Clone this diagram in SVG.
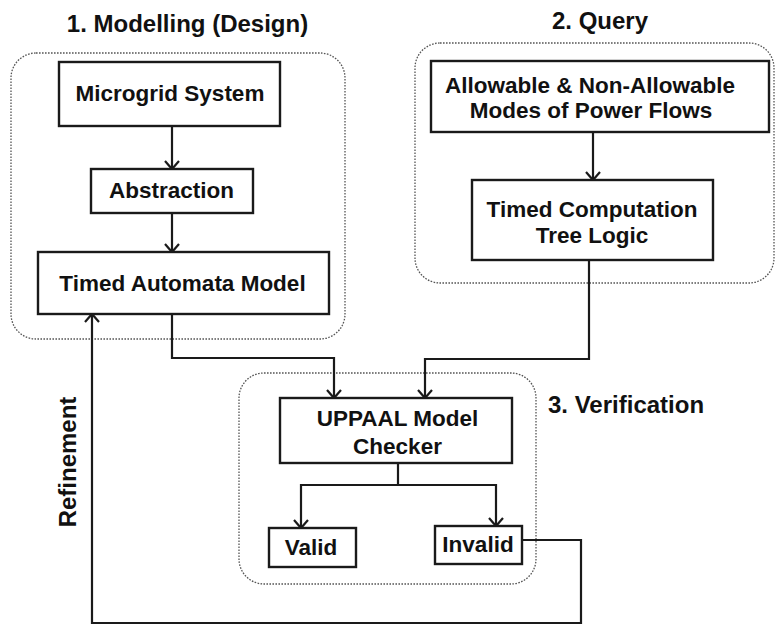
<svg xmlns="http://www.w3.org/2000/svg" width="776" height="626" viewBox="0 0 776 626">
<style>
.bg{fill:#fff}
.grp{fill:none;stroke:#555;stroke-width:1.3;stroke-dasharray:1.6,1.4}
.box{fill:#fff;stroke:#1a1a1a;stroke-width:2.4}
.t{font-family:"Liberation Sans",Arial,sans-serif;font-weight:bold;font-size:22.5px;fill:#111;text-anchor:middle}
.h{font-family:"Liberation Sans",Arial,sans-serif;font-weight:bold;font-size:24px;fill:#111}
.c{fill:none;stroke:#1a1a1a;stroke-width:2.2}
</style>
<defs>
<marker id="ah" markerUnits="userSpaceOnUse" markerWidth="20" markerHeight="20" refX="0" refY="0" viewBox="-10 -10 20 20" orient="auto" overflow="visible">
<path d="M-8,-7 L0,0 L-8,7" fill="none" stroke="#1a1a1a" stroke-width="2.2"/>
</marker>
</defs>
<rect class="bg" x="0" y="0" width="776" height="626"/>
<g id="groups">
<rect class="grp" x="11" y="53" width="334" height="286" rx="25"/>
<rect class="grp" x="415" y="43" width="359" height="240" rx="25"/>
<rect class="grp" x="239" y="373" width="297" height="211" rx="25"/>
<text class="h" x="187.5" y="32" text-anchor="middle">1. Modelling (Design)</text>
<text class="h" x="600" y="29" text-anchor="middle">2. Query</text>
<text class="h" x="548" y="413">3. Verification</text>
</g>
<g id="connectors">
<path class="c" d="M172,126 V169" marker-end="url(#ah)"/>
<path class="c" d="M172,213 V252" marker-end="url(#ah)"/>
<path class="c" d="M593,132 V180" marker-end="url(#ah)"/>
<path class="c" d="M172,314 V358 H334 V398" marker-end="url(#ah)"/>
<path class="c" d="M589,260 V359 H425 V398" marker-end="url(#ah)"/>
<path class="c" d="M398,463 V485 H301 V528" marker-end="url(#ah)"/>
<path class="c" d="M398,485 H496 V526" marker-end="url(#ah)"/>
<path class="c" d="M522,540 H581 V623 H92 V314" marker-end="url(#ah)"/>
<text class="h" transform="translate(76,462) rotate(-90)" text-anchor="middle">Refinement</text>
</g>
<g id="microgrid">
<rect class="box" x="59" y="62" width="221" height="64"/>
<text class="t" x="170" y="101">Microgrid System</text>
</g>
<g id="abstraction">
<rect class="box" x="91" y="169" width="162" height="44"/>
<text class="t" x="171.5" y="198">Abstraction</text>
</g>
<g id="tam">
<rect class="box" x="38" y="252" width="291" height="62"/>
<text class="t" x="182.5" y="291">Timed Automata Model</text>
</g>
<g id="modes">
<rect class="box" x="431" y="61" width="338" height="71"/>
<text class="t" x="590" y="93">Allowable &amp; Non-Allowable</text>
<text class="t" x="591" y="118">Modes of Power Flows</text>
</g>
<g id="tctl">
<rect class="box" x="472" y="180" width="241" height="80"/>
<text class="t" x="592" y="217">Timed Computation</text>
<text class="t" x="592" y="243">Tree Logic</text>
</g>
<g id="uppaal">
<rect class="box" x="280" y="398" width="232" height="65"/>
<text class="t" x="397.5" y="426">UPPAAL Model</text>
<text class="t" x="397.5" y="454">Checker</text>
</g>
<g id="valid">
<rect class="box" x="269" y="528" width="87" height="39"/>
<text class="t" x="311" y="555">Valid</text>
</g>
<g id="invalid">
<rect class="box" x="435" y="526" width="87" height="38"/>
<text class="t" x="478" y="552">Invalid</text>
</g>
</svg>
